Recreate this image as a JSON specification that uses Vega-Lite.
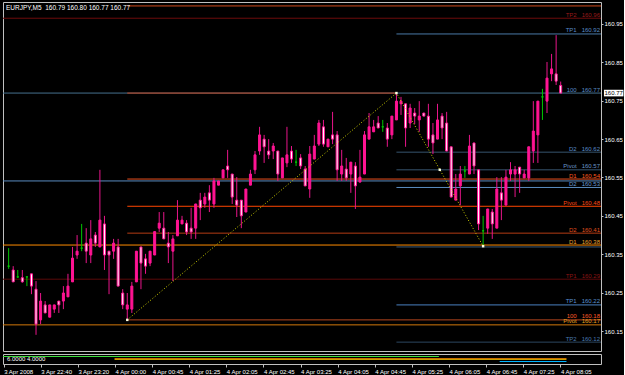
{
"$schema": "https://vega.github.io/schema/vega-lite/v6.json",
"background": "#000000",
"padding": {"left": 2, "top": 1, "right": 0, "bottom": 0},
"spacing": 1,
"resolve": {"scale": {"stroke": "independent", "fill": "independent", "color": "independent"}},
"config": {
  "view": {"stroke": "#c0c0c0", "strokeWidth": 1, "fill": "#000000"},
  "axis": {"grid": false, "domain": false, "labelColor": "#ffffff", "tickColor": "#c0c0c0", "labelFont": "Liberation Sans Narrow, Liberation Sans, sans-serif", "labelFontSize": 6}
},
"datasets": {
  "candles": [
    {"i":-1,"o":160.319,"h":160.366,"l":160.312,"c":160.319},
    {"i":0,"o":160.309,"h":160.319,"l":160.278,"c":160.278},
    {"i":1,"o":160.291,"h":160.309,"l":160.288,"c":160.291},
    {"i":2,"o":160.289,"h":160.309,"l":160.276,"c":160.278},
    {"i":3,"o":160.291,"h":160.292,"l":160.267,"c":160.291},
    {"i":4,"o":160.299,"h":160.299,"l":160.246,"c":160.267},
    {"i":5,"o":160.259,"h":160.280,"l":160.140,"c":160.168},
    {"i":6,"o":160.179,"h":160.249,"l":160.168,"c":160.228},
    {"i":7,"o":160.218,"h":160.228,"l":160.197,"c":160.197},
    {"i":8,"o":160.186,"h":160.218,"l":160.186,"c":160.218},
    {"i":9,"o":160.207,"h":160.218,"l":160.197,"c":160.218},
    {"i":10,"o":160.228,"h":160.228,"l":160.197,"c":160.218},
    {"i":11,"o":160.228,"h":160.267,"l":160.207,"c":160.249},
    {"i":12,"o":160.239,"h":160.299,"l":160.239,"c":160.267},
    {"i":13,"o":160.278,"h":160.369,"l":160.278,"c":160.340},
    {"i":14,"o":160.348,"h":160.400,"l":160.338,"c":160.358},
    {"i":15,"o":160.366,"h":160.429,"l":160.358,"c":160.366},
    {"i":16,"o":160.379,"h":160.418,"l":160.327,"c":160.358},
    {"i":17,"o":160.348,"h":160.439,"l":160.327,"c":160.390},
    {"i":18,"o":160.400,"h":160.408,"l":160.369,"c":160.379},
    {"i":19,"o":160.369,"h":160.570,"l":160.369,"c":160.439},
    {"i":20,"o":160.429,"h":160.450,"l":160.309,"c":160.348},
    {"i":21,"o":160.358,"h":160.358,"l":160.246,"c":160.348},
    {"i":22,"o":160.358,"h":160.390,"l":160.338,"c":160.379},
    {"i":23,"o":160.369,"h":160.390,"l":160.267,"c":160.267},
    {"i":24,"o":160.249,"h":160.259,"l":160.207,"c":160.218},
    {"i":25,"o":160.207,"h":160.249,"l":160.179,"c":160.218},
    {"i":26,"o":160.207,"h":160.278,"l":160.197,"c":160.267},
    {"i":27,"o":160.278,"h":160.358,"l":160.278,"c":160.358},
    {"i":28,"o":160.369,"h":160.369,"l":160.259,"c":160.327},
    {"i":29,"o":160.338,"h":160.351,"l":160.299,"c":160.319},
    {"i":30,"o":160.327,"h":160.358,"l":160.319,"c":160.358},
    {"i":31,"o":160.348,"h":160.409,"l":160.348,"c":160.409},
    {"i":32,"o":160.418,"h":160.460,"l":160.408,"c":160.431},
    {"i":33,"o":160.418,"h":160.460,"l":160.390,"c":160.390},
    {"i":34,"o":160.379,"h":160.408,"l":160.327,"c":160.369},
    {"i":35,"o":160.358,"h":160.400,"l":160.280,"c":160.390},
    {"i":36,"o":160.398,"h":160.491,"l":160.398,"c":160.439},
    {"i":37,"o":160.429,"h":160.450,"l":160.429,"c":160.439},
    {"i":38,"o":160.431,"h":160.439,"l":160.400,"c":160.408},
    {"i":39,"o":160.418,"h":160.471,"l":160.390,"c":160.408},
    {"i":40,"o":160.418,"h":160.481,"l":160.390,"c":160.481},
    {"i":41,"o":160.491,"h":160.510,"l":160.439,"c":160.471},
    {"i":42,"o":160.481,"h":160.510,"l":160.471,"c":160.499},
    {"i":43,"o":160.510,"h":160.530,"l":160.460,"c":160.491},
    {"i":44,"o":160.481,"h":160.549,"l":160.471,"c":160.541},
    {"i":45,"o":160.530,"h":160.541,"l":160.530,"c":160.541},
    {"i":46,"o":160.549,"h":160.570,"l":160.549,"c":160.570},
    {"i":47,"o":160.580,"h":160.622,"l":160.549,"c":160.570},
    {"i":48,"o":160.559,"h":160.559,"l":160.481,"c":160.499},
    {"i":49,"o":160.491,"h":160.551,"l":160.447,"c":160.478},
    {"i":50,"o":160.491,"h":160.491,"l":160.418,"c":160.450},
    {"i":51,"o":160.460,"h":160.520,"l":160.460,"c":160.520},
    {"i":52,"o":160.530,"h":160.570,"l":160.530,"c":160.559},
    {"i":53,"o":160.570,"h":160.619,"l":160.559,"c":160.609},
    {"i":54,"o":160.619,"h":160.682,"l":160.609,"c":160.661},
    {"i":55,"o":160.650,"h":160.661,"l":160.588,"c":160.630},
    {"i":56,"o":160.619,"h":160.650,"l":160.598,"c":160.609},
    {"i":57,"o":160.619,"h":160.640,"l":160.598,"c":160.632},
    {"i":58,"o":160.619,"h":160.619,"l":160.541,"c":160.559},
    {"i":59,"o":160.549,"h":160.601,"l":160.549,"c":160.601},
    {"i":60,"o":160.588,"h":160.682,"l":160.577,"c":160.609},
    {"i":61,"o":160.619,"h":160.632,"l":160.588,"c":160.598},
    {"i":62,"o":160.590,"h":160.622,"l":160.580,"c":160.590},
    {"i":63,"o":160.601,"h":160.611,"l":160.572,"c":160.580},
    {"i":64,"o":160.572,"h":160.580,"l":160.528,"c":160.528},
    {"i":65,"o":160.520,"h":160.632,"l":160.497,"c":160.611},
    {"i":66,"o":160.598,"h":160.661,"l":160.598,"c":160.632},
    {"i":67,"o":160.637,"h":160.700,"l":160.632,"c":160.692},
    {"i":68,"o":160.682,"h":160.700,"l":160.630,"c":160.637},
    {"i":69,"o":160.630,"h":160.650,"l":160.630,"c":160.650},
    {"i":70,"o":160.661,"h":160.721,"l":160.637,"c":160.650},
    {"i":71,"o":160.661,"h":160.671,"l":160.541,"c":160.570},
    {"i":72,"o":160.559,"h":160.622,"l":160.541,"c":160.580},
    {"i":73,"o":160.572,"h":160.601,"l":160.541,"c":160.549},
    {"i":74,"o":160.559,"h":160.590,"l":160.510,"c":160.590},
    {"i":75,"o":160.580,"h":160.590,"l":160.468,"c":160.528},
    {"i":76,"o":160.538,"h":160.622,"l":160.538,"c":160.551},
    {"i":77,"o":160.559,"h":160.671,"l":160.559,"c":160.661},
    {"i":78,"o":160.650,"h":160.718,"l":160.650,"c":160.682},
    {"i":79,"o":160.669,"h":160.700,"l":160.669,"c":160.682},
    {"i":80,"o":160.692,"h":160.710,"l":160.679,"c":160.679},
    {"i":81,"o":160.682,"h":160.700,"l":160.669,"c":160.682},
    {"i":82,"o":160.679,"h":160.692,"l":160.630,"c":160.650},
    {"i":83,"o":160.661,"h":160.710,"l":160.650,"c":160.710},
    {"i":84,"o":160.700,"h":160.770,"l":160.700,"c":160.749},
    {"i":85,"o":160.742,"h":160.760,"l":160.713,"c":160.749},
    {"i":86,"o":160.742,"h":160.742,"l":160.630,"c":160.679},
    {"i":87,"o":160.692,"h":160.742,"l":160.679,"c":160.731},
    {"i":88,"o":160.718,"h":160.731,"l":160.689,"c":160.710},
    {"i":89,"o":160.700,"h":160.749,"l":160.669,"c":160.710},
    {"i":90,"o":160.718,"h":160.718,"l":160.710,"c":160.710},
    {"i":91,"o":160.710,"h":160.742,"l":160.630,"c":160.650},
    {"i":92,"o":160.661,"h":160.692,"l":160.611,"c":160.640},
    {"i":93,"o":160.650,"h":160.742,"l":160.650,"c":160.700},
    {"i":94,"o":160.710,"h":160.718,"l":160.650,"c":160.679},
    {"i":95,"o":160.692,"h":160.721,"l":160.619,"c":160.619},
    {"i":96,"o":160.630,"h":160.630,"l":160.499,"c":160.499},
    {"i":97,"o":160.491,"h":160.559,"l":160.491,"c":160.520},
    {"i":98,"o":160.528,"h":160.580,"l":160.478,"c":160.559},
    {"i":99,"o":160.567,"h":160.580,"l":160.549,"c":160.567},
    {"i":100,"o":160.559,"h":160.661,"l":160.559,"c":160.632},
    {"i":101,"o":160.640,"h":160.640,"l":160.559,"c":160.580},
    {"i":102,"o":160.570,"h":160.570,"l":160.413,"c":160.429},
    {"i":103,"o":160.411,"h":160.450,"l":160.371,"c":160.411},
    {"i":104,"o":160.418,"h":160.468,"l":160.403,"c":160.468},
    {"i":105,"o":160.460,"h":160.468,"l":160.390,"c":160.429},
    {"i":106,"o":160.418,"h":160.551,"l":160.418,"c":160.520},
    {"i":107,"o":160.510,"h":160.551,"l":160.439,"c":160.491},
    {"i":108,"o":160.478,"h":160.570,"l":160.478,"c":160.551},
    {"i":109,"o":160.559,"h":160.590,"l":160.541,"c":160.570},
    {"i":110,"o":160.559,"h":160.580,"l":160.499,"c":160.570},
    {"i":111,"o":160.577,"h":160.577,"l":160.510,"c":160.559},
    {"i":112,"o":160.549,"h":160.570,"l":160.549,"c":160.559},
    {"i":113,"o":160.549,"h":160.630,"l":160.541,"c":160.630},
    {"i":114,"o":160.619,"h":160.749,"l":160.588,"c":160.671},
    {"i":115,"o":160.661,"h":160.749,"l":160.588,"c":160.749},
    {"i":116,"o":160.760,"h":160.781,"l":160.700,"c":160.760},
    {"i":117,"o":160.749,"h":160.851,"l":160.718,"c":160.809},
    {"i":118,"o":160.820,"h":160.872,"l":160.801,"c":160.833},
    {"i":119,"o":160.820,"h":160.921,"l":160.791,"c":160.801},
    {"i":120,"o":160.790,"h":160.800,"l":160.770,"c":160.770}
  ],
  "levels": [
    {"id":"L1","from":25,"to":130,"p":160.997,"label":""},
    {"id":"L2","from":-3,"to":130,"p":160.965,"label":"TP2\u00a0\u00a0\u00a0160.96"},
    {"id":"L3","from":84,"to":130,"p":160.924,"label":"TP1\u00a0\u00a0\u00a0160.92"},
    {"id":"L4","from":-3,"to":130,"p":160.770,"label":"100\u00a0\u00a0\u00a0160.77"},
    {"id":"L5","from":25,"to":84,"p":160.770,"label":""},
    {"id":"L6","from":84,"to":130,"p":160.616,"label":"D2\u00a0\u00a0\u00a0160.62"},
    {"id":"L7","from":84,"to":130,"p":160.570,"label":"Pivot\u00a0\u00a0\u00a0160.57"},
    {"id":"L9","from":-3,"to":130,"p":160.541,"label":""},
    {"id":"L8","from":25,"to":130,"p":160.546,"label":"D1\u00a0\u00a0\u00a0160.54"},
    {"id":"L10","from":84,"to":130,"p":160.524,"label":"D2\u00a0\u00a0\u00a0160.53"},
    {"id":"L11","from":25,"to":130,"p":160.475,"label":"Pivot\u00a0\u00a0\u00a0160.48"},
    {"id":"L12","from":25,"to":130,"p":160.405,"label":"D2\u00a0\u00a0\u00a0160.41"},
    {"id":"L14","from":84,"to":130,"p":160.369,"label":""},
    {"id":"L13","from":-3,"to":130,"p":160.374,"label":"D1\u00a0\u00a0\u00a0160.38"},
    {"id":"L15","from":-3,"to":130,"p":160.285,"label":"TP1\u00a0\u00a0\u00a0160.29"},
    {"id":"L16","from":84,"to":130,"p":160.218,"label":"TP1\u00a0\u00a0\u00a0160.22"},
    {"id":"L17","from":25,"to":130,"p":160.179,"label":"100\u00a0\u00a0\u00a0160.18"},
    {"id":"L18","from":-3,"to":130,"p":160.166,"label":"Pivot\u00a0\u00a0\u00a0160.17"},
    {"id":"L19","from":84,"to":130,"p":160.121,"label":"TP2\u00a0\u00a0\u00a0160.12"}
  ],
  "zigzag": [
    {"i":25,"p":160.179},
    {"i":84,"p":160.770},
    {"i":103,"p":160.371}
  ],
  "pivots": [
    {"i":25,"p":160.179},
    {"i":84,"p":160.770},
    {"i":93.5,"p":160.570},
    {"i":103,"p":160.371}
  ],
  "ind": [
    {"line":"g","from":-3,"to":92.8,"v":7.5},
    {"line":"o","from":22.9,"to":120.3,"v":5.5},
    {"line":"y","from":22.9,"to":120.3,"v":4.5},
    {"line":"c","from":105.9,"to":120.3,"v":2.5}
  ]
},
"vconcat": [
  {
    "width": 598,
    "height": 349,
    "title": {"text": "EURJPY,M5\u00a0\u00a0160.79 160.80 160.77 160.77", "anchor": "start", "offset": -9, "dx": 3, "color": "#ffffff", "fontSize": 6.5, "fontWeight": "normal", "font": "Liberation Sans Narrow, Liberation Sans, sans-serif"},
    "layer": [
      {
        "data": {"name": "levels"},
        "mark": {"type": "rule", "clip": true, "strokeWidth": 1},
        "encoding": {
          "x": {"field": "from", "type": "quantitative", "scale": {"domain": [-1.142, 127.74], "nice": false, "zero": false}, "axis": null},
          "x2": {"field": "to"},
          "y": {"field": "p", "type": "quantitative", "scale": {"domain": [160.0979, 161.0073], "nice": false, "zero": false},
                "axis": {"orient": "right", "values": [160.15,160.2,160.25,160.3,160.35,160.4,160.45,160.5,160.55,160.6,160.65,160.7,160.75,160.8,160.85,160.9,160.95], "format": ".2f", "tickSize": 2, "labelPadding": 1, "title": null}},
          "stroke": {"field": "id", "type": "nominal", "legend": null,
            "scale": {"domain": ["L1","L2","L3","L4","L5","L6","L7","L8","L9","L10","L11","L12","L13","L14","L15","L16","L17","L18","L19"],
                      "range": ["#d04a1c","#6e0c0c","#4a7aa8","#46708f","#c8461e","#36546e","#36546e","#e8501e","#5a8cc0","#5a8cc0","#ff4500","#b43c14","#ff8c00","#3c5a78","#5a0a0a","#4a80c0","#b4461e","#d2780a","#2c4660"]}}
        }
      },
      {
        "data": {"name": "levels"},
        "transform": [{"filter": "datum.label != ''"}],
        "mark": {"type": "text", "align": "right", "baseline": "bottom", "dy": -0.5, "xOffset": -1, "fontSize": 6, "font": "Liberation Sans Narrow, Liberation Sans, sans-serif"},
        "encoding": {
          "x": {"value": "width"},
          "y": {"field": "p", "type": "quantitative"},
          "text": {"field": "label"},
          "fill": {"field": "id", "type": "nominal", "legend": null,
            "scale": {"domain": ["L1","L2","L3","L4","L5","L6","L7","L8","L9","L10","L11","L12","L13","L14","L15","L16","L17","L18","L19"],
                      "range": ["#d04a1c","#9c1a1a","#5a8cc8","#5a8cc8","#c8461e","#5a8cc8","#6a96c8","#ff5a1e","#5a8cc8","#6a9ad0","#ff4a14","#e0501e","#e8a030","#3c5a78","#8c1414","#5a90d0","#ff5a28","#e8a020","#4a7ab0"]}}
        }
      },
      {
        "data": {"name": "candles"},
        "mark": {"type": "rule", "clip": true, "strokeWidth": 1},
        "encoding": {
          "x": {"field": "i", "type": "quantitative"},
          "y": {"field": "l", "type": "quantitative"},
          "y2": {"field": "h"},
          "stroke": {"condition": {"test": "datum.c == datum.o", "value": "#00c800"}, "value": "#e8158a"}
        }
      },
      {
        "data": {"name": "candles"},
        "mark": {"type": "bar", "width": 2, "clip": true, "strokeWidth": 1},
        "encoding": {
          "x": {"field": "i", "type": "quantitative"},
          "y": {"field": "o", "type": "quantitative"},
          "y2": {"field": "c"},
          "fill": {"condition": [{"test": "datum.c > datum.o", "value": "#ff1493"}, {"test": "datum.c < datum.o", "value": "#ffffff"}], "value": "#00c800"},
          "stroke": {"condition": {"test": "datum.c == datum.o", "value": "#00c800"}, "value": "#ff1493"}
        }
      },
      {
        "data": {"name": "zigzag"},
        "mark": {"type": "line", "strokeDash": [1, 2], "strokeWidth": 1, "color": "#d2d200"},
        "encoding": {
          "x": {"field": "i", "type": "quantitative"},
          "y": {"field": "p", "type": "quantitative"}
        }
      },
      {
        "data": {"name": "pivots"},
        "mark": {"type": "point", "shape": "square", "filled": true, "size": 6, "color": "#ffffe0", "opacity": 1},
        "encoding": {
          "x": {"field": "i", "type": "quantitative"},
          "y": {"field": "p", "type": "quantitative"}
        }
      },
      {
        "data": {"name": "candles"},
        "transform": [{"filter": "datum.i == 120"}],
        "mark": {"type": "point", "shape": "M-1,-0.34H1V0.34H-1Z", "filled": true, "size": 380, "color": "#ffffff", "opacity": 1, "xOffset": 12.7},
        "encoding": {
          "x": {"value": "width"},
          "y": {"field": "c", "type": "quantitative"}
        }
      },
      {
        "data": {"name": "candles"},
        "transform": [{"filter": "datum.i == 120"}],
        "mark": {"type": "text", "align": "center", "baseline": "middle", "fontSize": 6, "color": "#000000", "xOffset": 12.7, "font": "Liberation Sans Narrow, Liberation Sans, sans-serif"},
        "encoding": {
          "x": {"value": "width"},
          "y": {"field": "c", "type": "quantitative"},
          "text": {"field": "c", "type": "quantitative", "format": ".2f"}
        }
      }
    ]
  },
  {
    "width": 598,
    "height": 10,
    "title": {"text": "6.0000 4.0000", "anchor": "start", "offset": -8, "dx": 4, "color": "#ffffff", "fontSize": 6, "fontWeight": "normal", "font": "Liberation Sans Narrow, Liberation Sans, sans-serif"},
    "data": {"name": "ind"},
    "mark": {"type": "rule", "clip": true, "strokeWidth": 1},
    "encoding": {
      "x": {"field": "from", "type": "quantitative", "scale": {"domain": [-1.142, 127.74], "nice": false, "zero": false},
            "axis": {"orient": "bottom", "values": [-1,7,15,23,31,39,47,55,63,71,79,87,95,103,111,119],
                     "labelExpr": "['3 Apr 2008','3 Apr 22:40','3 Apr 23:20','4 Apr 00:00','4 Apr 00:45','4 Apr 01:25','4 Apr 02:05','4 Apr 02:45','4 Apr 03:25','4 Apr 04:05','4 Apr 04:45','4 Apr 05:25','4 Apr 06:05','4 Apr 06:45','4 Apr 07:25','4 Apr 08:05'][round((datum.value + 1) / 8)]",
                     "labelAlign": "left", "labelBaseline": "top", "tickSize": 3, "labelPadding": 1, "labelOverlap": false, "labelFlush": false, "title": null}},
      "x2": {"field": "to"},
      "y": {"field": "v", "type": "quantitative", "scale": {"domain": [0, 10], "nice": false, "zero": false}, "axis": null},
      "stroke": {"field": "line", "type": "nominal", "legend": null, "scale": {"domain": ["g","o","y","c"], "range": ["#3cdc3c","#c86e00","#c8a000","#00b4ff"]}}
    }
  }
]
}
